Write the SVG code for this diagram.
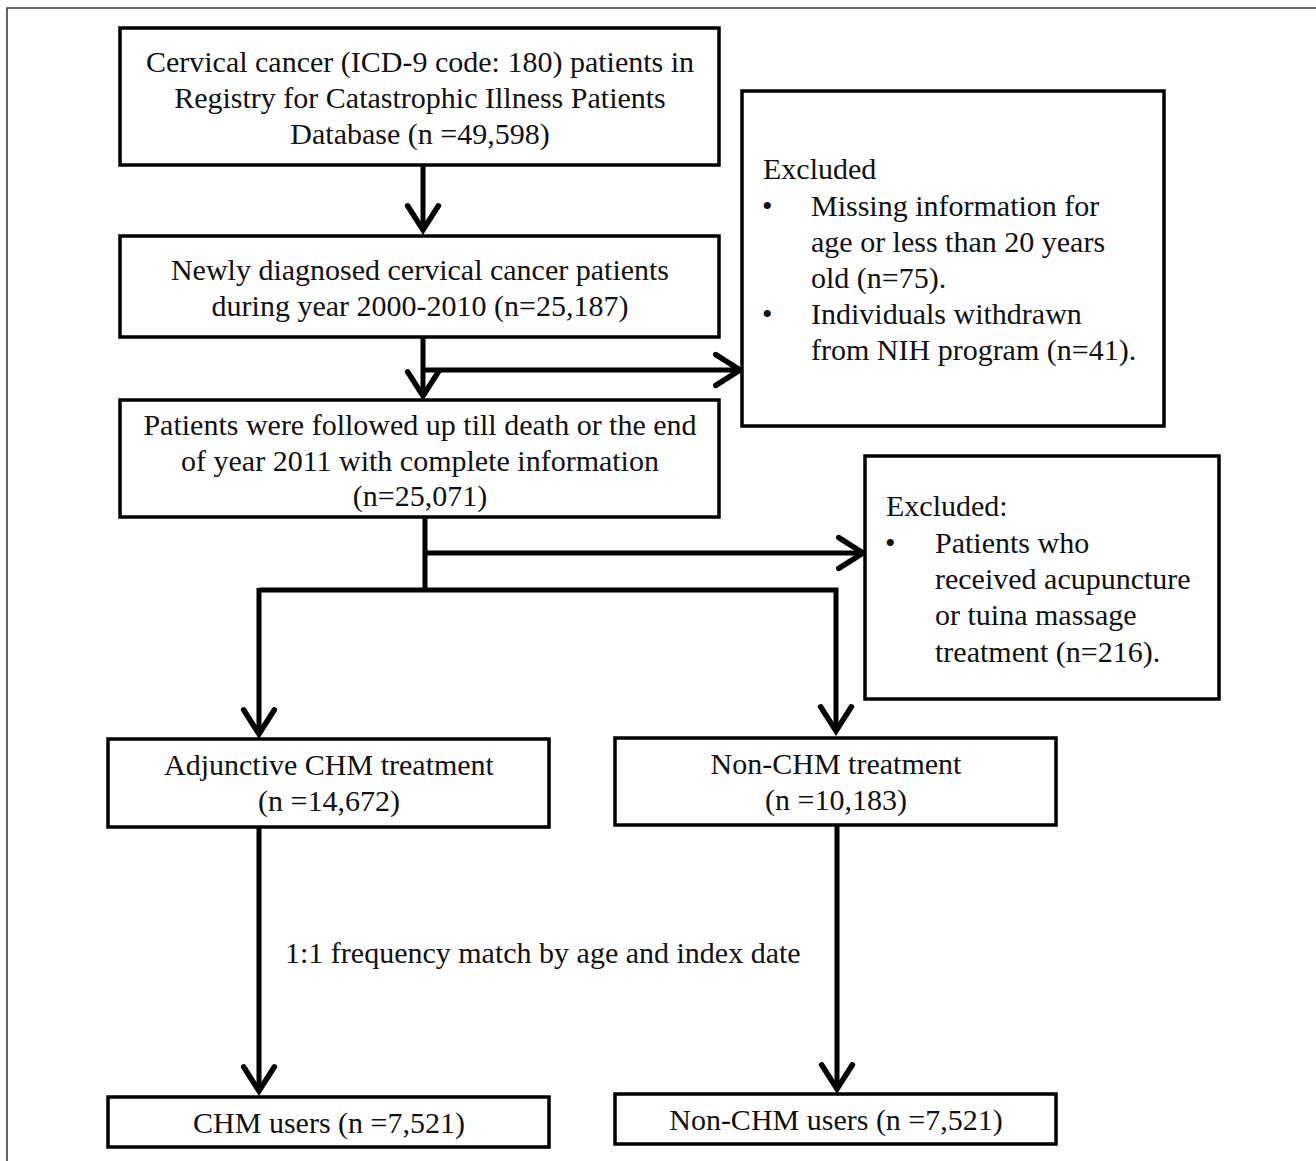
<svg xmlns="http://www.w3.org/2000/svg" width="1316" height="1161" viewBox="0 0 1316 1161">
<style>
.box{fill:#fff;stroke:#000;stroke-width:3.5}
.t{font-family:"Liberation Serif","Times New Roman",serif;font-size:30px;fill:#111}
.c{text-anchor:middle}
.ln{fill:none;stroke:#000;stroke-width:5}
</style>
<defs>
<marker id="ah" markerUnits="userSpaceOnUse" markerWidth="44" markerHeight="44" viewBox="-28 -20 32 40" refX="0" refY="0" orient="auto">
<path d="M-22,-14 L0,0 L-22,14" fill="none" stroke="#000" stroke-width="5" stroke-linecap="round" stroke-linejoin="miter"/>
</marker>
</defs>
<rect width="1316" height="1161" fill="#fff"/>
<rect x="7" y="8" width="1330" height="1170" fill="none" stroke="#333" stroke-width="1.5"/>
<g id="connectors">
<line class="ln" x1="423" y1="165" x2="423" y2="230" marker-end="url(#ah)"/>
<line class="ln" x1="423" y1="337" x2="423" y2="396" marker-end="url(#ah)"/>
<line class="ln" x1="423" y1="370" x2="740" y2="370" marker-end="url(#ah)"/>
<line class="ln" x1="425" y1="517" x2="425" y2="589"/>
<line class="ln" x1="425" y1="553" x2="863" y2="553" marker-end="url(#ah)"/>
<polyline class="ln" points="259,590 836,590 836,731" marker-end="url(#ah)"/>
<line class="ln" x1="259" y1="588" x2="259" y2="734" marker-end="url(#ah)"/>
<line class="ln" x1="259" y1="827" x2="259" y2="1091" marker-end="url(#ah)"/>
<line class="ln" x1="837" y1="825" x2="837" y2="1089" marker-end="url(#ah)"/>
<text class="t" x="285" y="963">1:1 frequency match by age and index date</text>
</g>
<g id="n1">
<rect class="box" x="120" y="28" width="599" height="137"/>
<text class="t c" x="420" y="72">Cervical cancer (ICD-9 code: 180) patients in</text>
<text class="t c" x="420" y="108">Registry for Catastrophic Illness Patients</text>
<text class="t c" x="420" y="144">Database (n =49,598)</text>
</g>
<g id="n2">
<rect class="box" x="120" y="236" width="599" height="101"/>
<text class="t c" x="420" y="280">Newly diagnosed cervical cancer patients</text>
<text class="t c" x="420" y="316">during year 2000-2010 (n=25,187)</text>
</g>
<g id="ex1">
<rect class="box" x="742" y="91" width="422" height="335"/>
<text class="t" x="763" y="179">Excluded</text>
<text class="t" x="762" y="216">•</text>
<text class="t" x="811" y="216">Missing information for</text>
<text class="t" x="811" y="252">age or less than 20 years</text>
<text class="t" x="811" y="288">old (n=75).</text>
<text class="t" x="762" y="324">•</text>
<text class="t" x="811" y="324">Individuals withdrawn</text>
<text class="t" x="811" y="360">from NIH program (n=41).</text>
</g>
<g id="n3">
<rect class="box" x="120" y="400" width="599" height="117"/>
<text class="t c" x="420" y="435">Patients were followed up till death or the end</text>
<text class="t c" x="420" y="471">of year 2011 with complete information</text>
<text class="t c" x="420" y="506">(n=25,071)</text>
</g>
<g id="ex2">
<rect class="box" x="865" y="456" width="354" height="243"/>
<text class="t" x="886" y="516">Excluded:</text>
<text class="t" x="885" y="553">•</text>
<text class="t" x="935" y="553">Patients who</text>
<text class="t" x="935" y="589">received acupuncture</text>
<text class="t" x="935" y="625">or tuina massage</text>
<text class="t" x="935" y="662">treatment (n=216).</text>
</g>
<g id="n4">
<rect class="box" x="108" y="739" width="441" height="88"/>
<text class="t c" x="329" y="775">Adjunctive CHM treatment</text>
<text class="t c" x="329" y="811">(n =14,672)</text>
</g>
<g id="n5">
<rect class="box" x="615" y="738" width="441" height="87"/>
<text class="t c" x="836" y="774">Non-CHM treatment</text>
<text class="t c" x="836" y="810">(n =10,183)</text>
</g>
<g id="n6">
<rect class="box" x="108" y="1097" width="441" height="50"/>
<text class="t c" x="329" y="1133">CHM users (n =7,521)</text>
</g>
<g id="n7">
<rect class="box" x="615" y="1094" width="441" height="50"/>
<text class="t c" x="836" y="1130">Non-CHM users (n =7,521)</text>
</g>
</svg>
